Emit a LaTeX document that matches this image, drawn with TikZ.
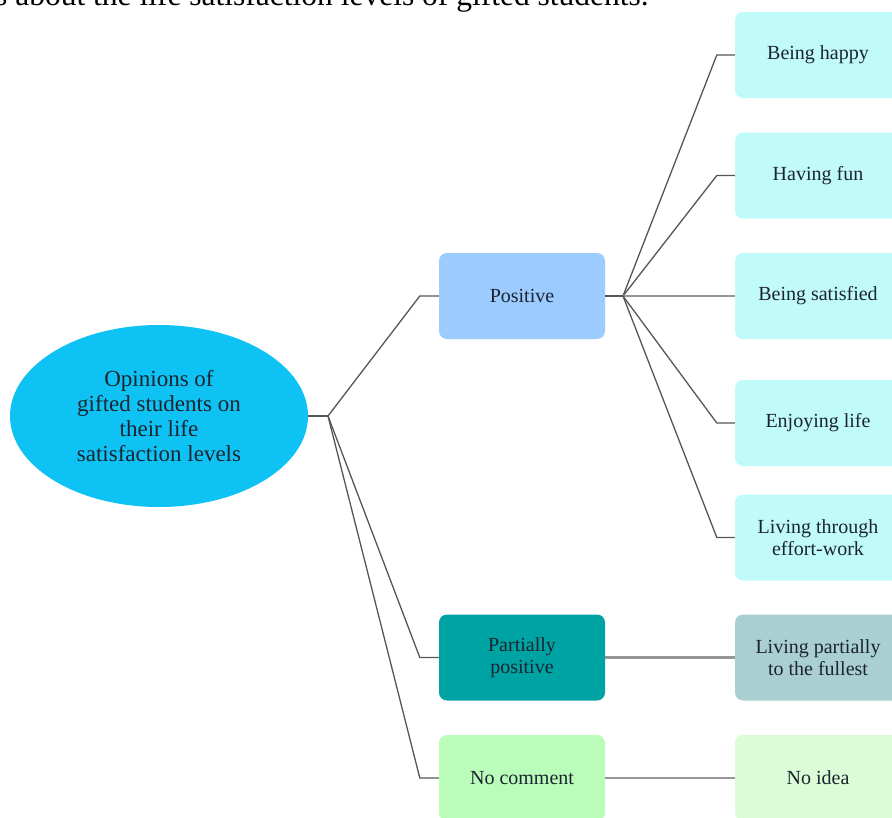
\documentclass[tikz,border=0pt]{standalone}
\usepackage{fontspec}
\setmainfont{Liberation Serif}
\usetikzlibrary{shapes.geometric}
\definecolor{rootc}{RGB}{14,194,244}
\definecolor{posc}{RGB}{156,203,255}
\definecolor{partc}{RGB}{0,163,163}
\definecolor{noc}{RGB}{186,252,186}
\definecolor{leafc}{RGB}{192,250,250}
\definecolor{partleaf}{RGB}{170,207,209}
\definecolor{noleaf}{RGB}{218,252,214}
\definecolor{txt}{RGB}{28,36,48}
\definecolor{dline}{RGB}{80,88,88}
\definecolor{gline}{RGB}{150,150,150}
\tikzset{
  box/.style={rectangle, rounded corners=8pt, minimum width=166pt, minimum height=86pt,
    inner sep=0pt, align=center, text=txt, font=\fontsize{20}{22}\selectfont},
  conn/.style={draw=dline, line width=1.3pt},
  straight/.style={draw=gline, line width=2.4pt},
}
\begin{document}
\begin{tikzpicture}[x=1pt,y=-1pt]
\useasboundingbox (0,0) rectangle (892,817);
\clip (0,0) rectangle (892,817);
% caption fragment
\node[anchor=base west, inner sep=0pt, font=\fontsize{31.5}{34}\selectfont] (cap) at (-5,5) {s about the life satisfaction levels of gifted students.};
% root
\node[ellipse, fill=rootc, minimum width=298pt, minimum height=182pt, inner sep=0pt,
  align=center, text=txt, font=\fontsize{23}{25}\selectfont] (root) at (159,416)
  {Opinions of\\gifted students on\\their life\\satisfaction levels};
% level 1
\node[box, fill=posc] (pos) at (522,296) {Positive};
\node[box, fill=partc] (part) at (522,657.5) {Partially\\positive};
\node[box, fill=noc] (noc) at (522,778) {No comment};
% level 2
\node[box, fill=leafc] (happy) at (818,55) {Being happy};
\node[box, fill=leafc] (fun) at (818,175.5) {Having fun};
\node[box, fill=leafc] (sat) at (818,296) {Being satisfied};
\node[box, fill=leafc] (enjoy) at (818,423) {Enjoying life};
\node[box, fill=leafc] (effort) at (818,537.5) {Living through\\effort-work};
\node[box, fill=partleaf] (partleafn) at (818,657.5) {Living partially\\to the fullest};
\node[box, fill=noleaf] (idea) at (818,778) {No idea};
% junctions
\coordinate (j0) at (328,416);
\coordinate (j1) at (623,296);
% connectors from root
\draw[conn] (root.east) -- (j0);
\draw[conn] (j0) -- ([xshift=-19pt]pos.west) -- (pos.west);
\draw[conn] (j0) -- ([xshift=-19pt]part.west) -- (part.west);
\draw[conn] (j0) -- ([xshift=-19pt]noc.west) -- (noc.west);
% connectors from positive
\draw[conn, line width=2pt] (pos.east) -- (j1);
\draw[conn] (j1) -- ([xshift=-18pt]happy.west) -- (happy.west);
\draw[conn] (j1) -- ([xshift=-18pt]fun.west) -- (fun.west);
\draw[straight] (j1) -- (sat.west);
\draw[conn] (j1) -- ([xshift=-18pt]enjoy.west) -- (enjoy.west);
\draw[conn] (j1) -- ([xshift=-18pt]effort.west) -- (effort.west);
% straight connectors
\draw[straight] (part.east) -- (partleafn.west);
\draw[straight] (noc.east) -- (idea.west);
\end{tikzpicture}
\end{document}
